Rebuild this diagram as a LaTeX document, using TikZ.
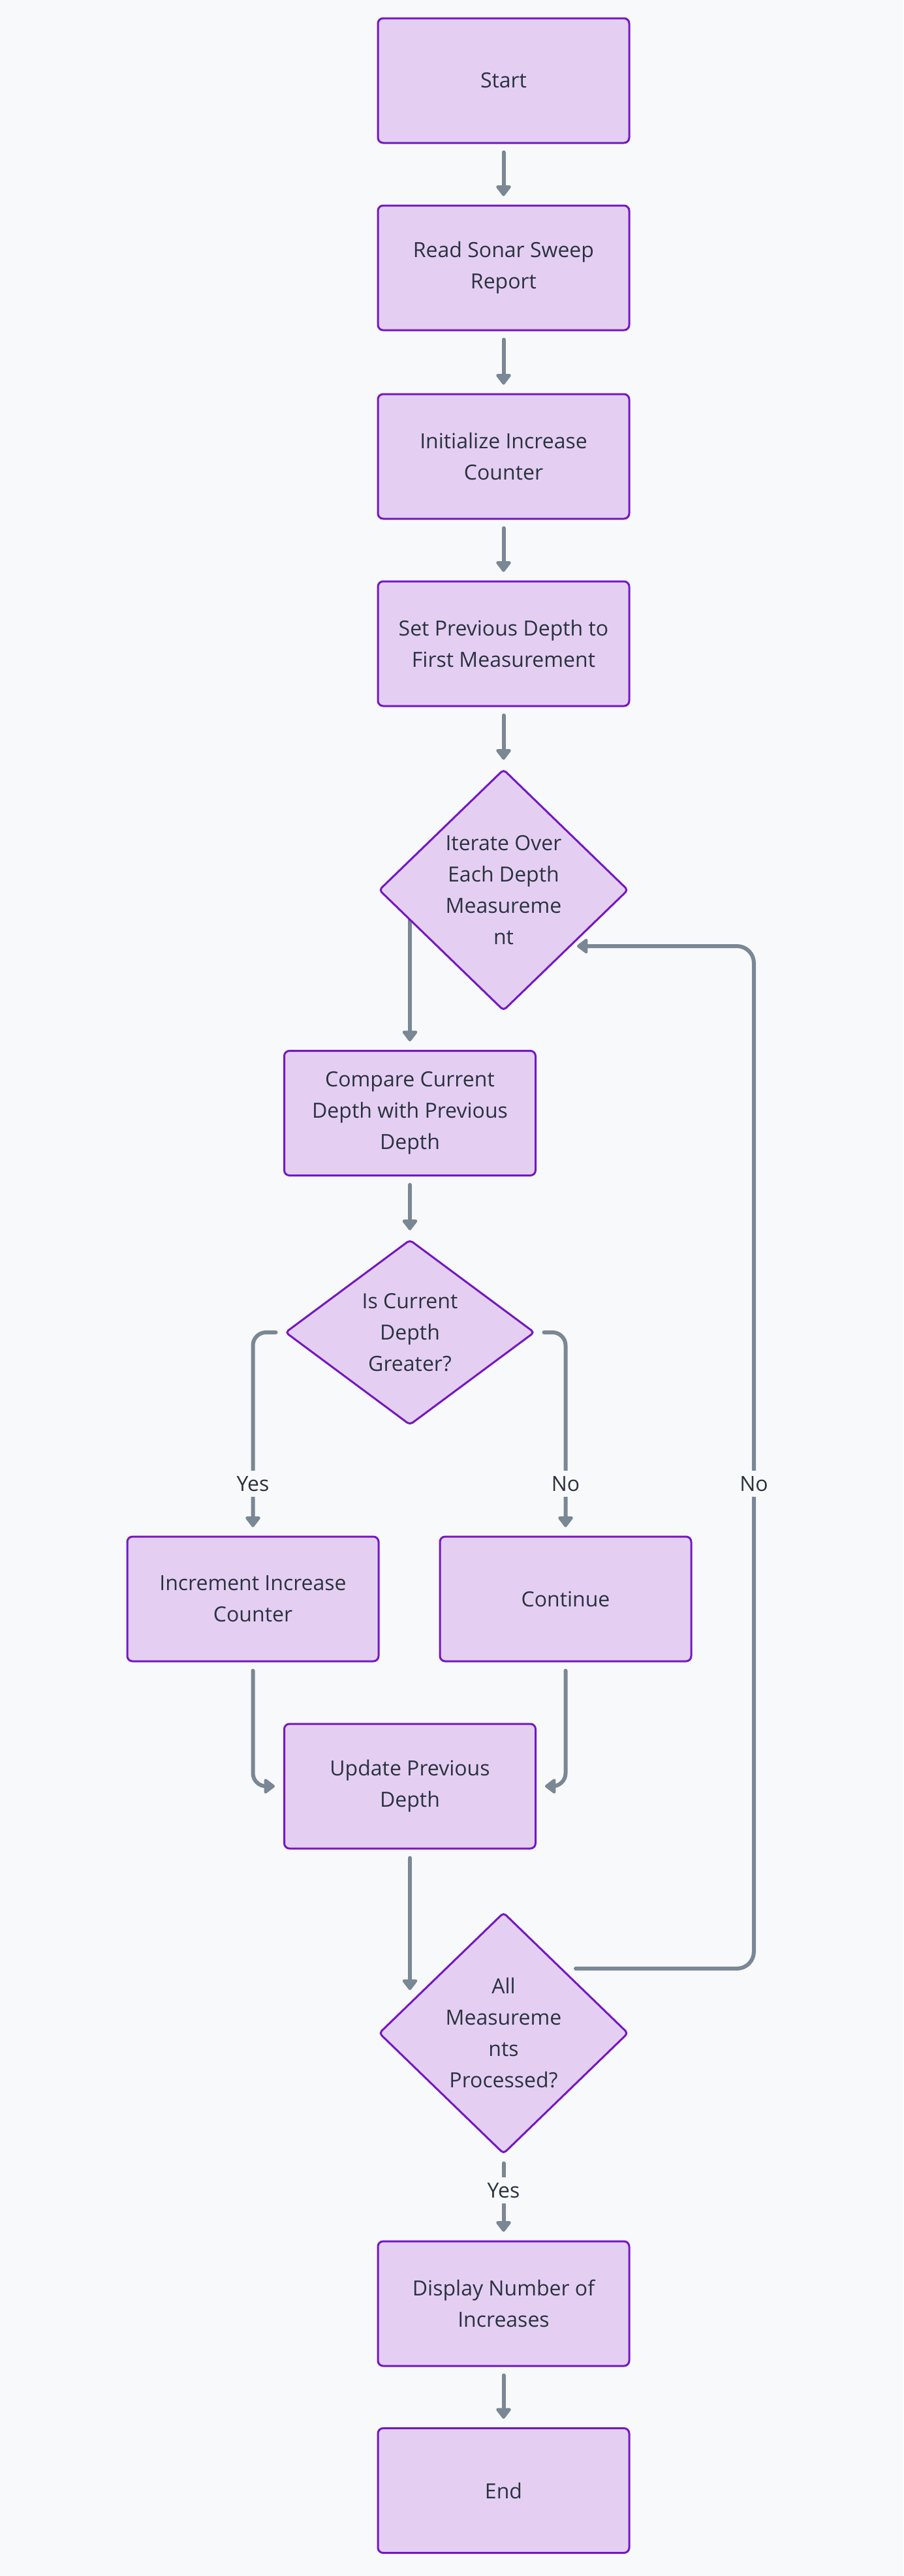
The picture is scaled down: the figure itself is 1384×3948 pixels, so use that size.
\documentclass[tikz,border=0pt]{standalone}
\usepackage{fontspec}
\setmainfont{Open Sans}
\usetikzlibrary{shapes.geometric,arrows.meta}
\definecolor{bgc}{HTML}{F8F9FA}
\definecolor{boxfill}{HTML}{E4CFF3}
\definecolor{boxline}{HTML}{7417C4}
\definecolor{arrc}{HTML}{7A8794}
\definecolor{txt}{HTML}{2A323E}
\pgfdeclarelayer{backmost}
\pgfdeclarelayer{edges}
\pgfsetlayers{backmost,edges,main}
\tikzset{
  base/.style={draw=boxline, fill=boxfill, line width=3pt, text=txt, align=center,
    font=\fontsize{32pt}{48pt}\selectfont},
  box/.style={base, rectangle, rounded corners=8pt, minimum width=385pt, minimum height=191pt, inner sep=0pt},
  dia/.style={base, diamond, aspect=1, rounded corners=5pt, inner sep=0pt, minimum width=382pt, minimum height=370pt},
  arr/.style={draw=arrc, line width=6pt, line cap=round, rounded corners=24pt,
    -{Triangle[width=26pt,length=18pt,round]}, shorten <=13pt, shorten >=13pt},
  arrn/.style={draw=arrc, line width=6pt, line cap=round, rounded corners=26pt,
    -{Triangle[width=26pt,length=18pt,round]}},
  lbl/.style={fill=bgc, text=txt, inner sep=8pt, font=\fontsize{32pt}{48pt}\selectfont}
}
\begin{document}
\begin{tikzpicture}[x=1pt,y=-1pt]
\begin{pgfonlayer}{backmost}
\fill[bgc] (0,0) rectangle (1384,3948);
\end{pgfonlayer}
\useasboundingbox (0,0) rectangle (1384,3948);

\node[box] (start) at (771.5,123.5) {Start};
\node[box] (read) at (771.5,410.5) {Read Sonar Sweep\\Report};
\node[box] (init) at (771.5,699.5) {Initialize Increase\\Counter};
\node[box] (setp) at (771.5,986.5) {Set Previous Depth to\\First Measurement};
\node[dia] (d1) at (771.5,1364) {Iterate Over\\Each Depth\\Measureme\\nt};
\node[box] (cmp) at (628,1706) {Compare Current\\Depth with Previous\\Depth};
\node[dia, minimum height=284pt] (d2) at (628,2042) {Is Current\\Depth\\Greater?};
\node[box] (inc) at (387.5,2450.5) {Increment Increase\\Counter};
\node[box] (cont) at (866.5,2450.5) {Continue};
\node[box] (upd) at (628,2737.5) {Update Previous\\Depth};
\node[dia] (d3) at (771.5,3116) {All\\Measureme\\nts\\Processed?};
\node[box] (disp) at (771.5,3530.5) {Display Number of\\Increases};
\node[box] (end) at (771.5,3817) {End};

\coordinate (d1out) at (628,1364);
\coordinate (d3in) at (628,3050);
\coordinate (d3out) at (882,3017);
\coordinate (loopx) at (1155,2272);
\coordinate (d1in) at (884,1450);

\begin{pgfonlayer}{edges}
\draw[arr] (start) -- (read);
\draw[arr] (read) -- (init);
\draw[arr] (init) -- (setp);
\draw[arr] (setp) -- (d1);
\draw[arrn, shorten >=13pt] (d1out) -- (cmp.north);
\draw[arr] (cmp) -- (d2);
\draw[arr, rounded corners=20pt] (d2.west) -| (inc.north);
\draw[arr, rounded corners=20pt] (d2.east) -| (cont.north);
\draw[arr, rounded corners=20pt] (inc.south) |- (upd.west);
\draw[arr, rounded corners=20pt] (cont.south) |- (upd.east);
\draw[arrn, shorten <=13pt] (upd.south) -- (d3in);
\draw[arr] (d3.south) -- (disp.north);
\draw[arr] (disp) -- (end);
\draw[arrn] (d3out) -| (loopx) |- (d1in);
\end{pgfonlayer}

\node[lbl] (lyes1) at (387.5,2274) {Yes};
\node[lbl] (lno1) at (866.5,2274) {No};
\node[lbl] (lno2) at (1155,2274) {No};
\node[lbl] (lyes2) at (771.5,3357) {Yes};
\end{tikzpicture}
\end{document}
